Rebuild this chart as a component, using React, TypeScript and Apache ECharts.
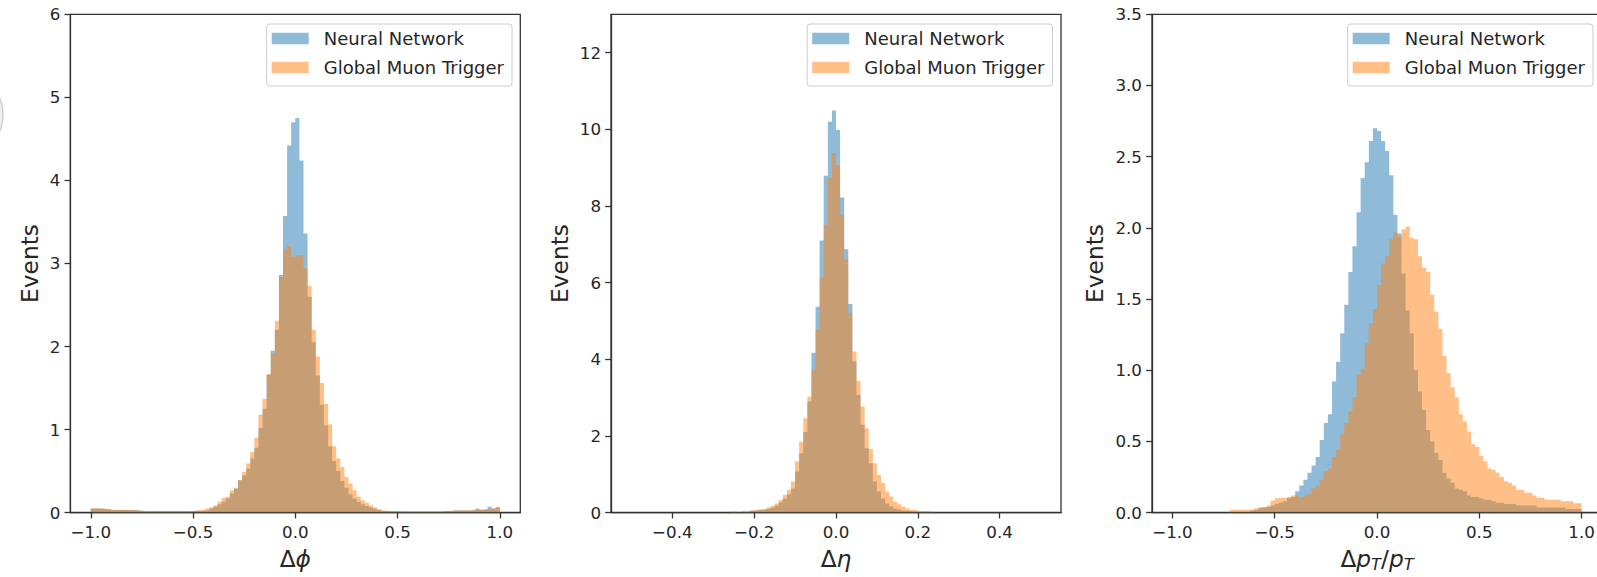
import React, { useEffect, useRef } from 'react';
import * as echarts from 'echarts';

// ---------------- data ----------------
const SERIES_NAMES = ['Neural Network', 'Global Muon Trigger'];

// Δφ histogram: 100 bins on [-1, 1]
const PHI_BIN_RANGE = [-1, 1];
const PHI_NN = [
  0.05, 0.05, 0.045, 0.04, 0.04, 0.03, 0.03, 0.03, 0.03, 0.03,
  0.03, 0.025, 0.02, 0.015, 0.015, 0.015, 0.015, 0.015, 0.015, 0.015,
  0.015, 0.015, 0.015, 0.015, 0.02, 0.02, 0.02, 0.025, 0.03, 0.05,
  0.07, 0.1, 0.13, 0.17, 0.23, 0.29, 0.39, 0.45, 0.53, 0.65,
  0.78, 1.02, 1.25, 1.66, 1.95, 2.2, 2.86, 3.57, 4.42, 4.7,
  4.75, 4.24, 3.36, 2.6, 2.05, 1.65, 1.3, 1.05, 0.8, 0.62,
  0.5, 0.38, 0.3, 0.22, 0.17, 0.13, 0.1, 0.08, 0.06, 0.045,
  0.03, 0.02, 0.015, 0.015, 0.015, 0.012, 0.012, 0.012, 0.012, 0.012,
  0.012, 0.012, 0.012, 0.012, 0.012, 0.012, 0.02, 0.02, 0.025, 0.025,
  0.025, 0.025, 0.025, 0.03, 0.05, 0.035, 0.04, 0.07, 0.05, 0.06,
];
const PHI_GMT = [
  0.05, 0.05, 0.05, 0.05, 0.04, 0.03, 0.03, 0.03, 0.03, 0.03,
  0.03, 0.025, 0.02, 0.015, 0.015, 0.015, 0.015, 0.015, 0.015, 0.015,
  0.015, 0.015, 0.015, 0.02, 0.02, 0.025, 0.03, 0.03, 0.05, 0.065,
  0.09, 0.13, 0.18, 0.19, 0.27, 0.29, 0.39, 0.49, 0.59, 0.73,
  0.9, 1.18, 1.37, 1.67, 1.92, 2.31, 2.84, 3.17, 3.21, 3.08,
  3.1, 3.1, 2.94, 2.73, 2.2, 1.88, 1.56, 1.31, 1.06, 0.8,
  0.65, 0.55, 0.43, 0.35, 0.27, 0.19, 0.15, 0.12, 0.09, 0.065,
  0.04, 0.025, 0.02, 0.02, 0.015, 0.012, 0.012, 0.012, 0.012, 0.012,
  0.012, 0.012, 0.012, 0.012, 0.012, 0.012, 0.02, 0.02, 0.025, 0.025,
  0.025, 0.025, 0.025, 0.03, 0.035, 0.035, 0.04, 0.04, 0.05, 0.07,
];

// Δη histogram: 100 bins on [-0.5, 0.5]
const ETA_BIN_RANGE = [-0.5, 0.5];
const ETA_NN = [
  0, 0, 0, 0, 0, 0, 0, 0, 0, 0,
  0, 0, 0, 0, 0, 0, 0, 0, 0, 0,
  0, 0, 0, 0, 0.01, 0.01, 0.02, 0.02, 0.03, 0.05,
  0.06, 0.07, 0.08, 0.1, 0.13, 0.18, 0.27, 0.36, 0.48, 0.63,
  1.07, 1.55, 2.1, 2.9, 4.17, 5.37, 7.1, 8.79, 10.2, 10.49,
  9.99, 8.22, 6.87, 5.44, 3.94, 3.07, 2.29, 1.68, 1.29, 0.81,
  0.55, 0.37, 0.24, 0.16, 0.1, 0.08, 0.05, 0.04, 0.03, 0.02,
  0.01, 0.01, 0.01, 0.01, 0, 0, 0, 0, 0, 0,
  0, 0, 0, 0, 0, 0, 0, 0, 0, 0,
  0, 0, 0, 0, 0, 0, 0, 0, 0, 0,
];
const ETA_GMT = [
  0, 0, 0, 0, 0, 0, 0, 0, 0, 0,
  0, 0, 0, 0, 0, 0, 0, 0, 0, 0,
  0, 0, 0, 0, 0.03, 0.03, 0.01, 0.03, 0.03, 0.06,
  0.06, 0.085, 0.085, 0.13, 0.18, 0.24, 0.33, 0.46, 0.59, 0.81,
  1.33, 1.85, 2.46, 3.02, 3.72, 4.77, 6.12, 7.51, 8.73, 9.38,
  9.07, 7.77, 6.6, 5.2, 4.2, 3.44, 2.77, 2.2, 1.66, 1.29,
  0.98, 0.77, 0.55, 0.42, 0.28, 0.22, 0.15, 0.11, 0.07, 0.07,
  0.04, 0.04, 0.03, 0.03, 0, 0, 0, 0, 0, 0,
  0, 0, 0, 0, 0, 0, 0, 0, 0, 0,
  0, 0, 0, 0, 0, 0, 0, 0, 0, 0,
];

// ΔpT/pT histogram: 100 bins on [-1, 1]
const PT_BIN_RANGE = [-1, 1];
const PT_NN = [
  0, 0, 0, 0, 0, 0, 0, 0, 0, 0,
  0, 0, 0, 0, 0, 0, 0, 0, 0, 0.015,
  0.02, 0.03, 0.035, 0.04, 0.05, 0.06, 0.07, 0.08, 0.1, 0.11,
  0.15, 0.19, 0.23, 0.28, 0.33, 0.39, 0.51, 0.63, 0.69, 0.92,
  1.06, 1.26, 1.46, 1.69, 1.87, 2.11, 2.35, 2.46, 2.61, 2.7,
  2.68, 2.61, 2.54, 2.37, 2.09, 1.96, 1.68, 1.42, 1.26, 1.0,
  0.85, 0.72, 0.58, 0.5, 0.42, 0.37, 0.28, 0.24, 0.21, 0.17,
  0.16, 0.15, 0.12, 0.11, 0.11, 0.1, 0.09, 0.09, 0.08, 0.07,
  0.07, 0.06, 0.06, 0.06, 0.05, 0.05, 0.05, 0.05, 0.05, 0.035,
  0.035, 0.035, 0.035, 0.035, 0.035, 0.035, 0.025, 0.025, 0.025, 0.025,
];
const PT_GMT = [
  0, 0, 0, 0, 0, 0, 0, 0, 0, 0,
  0, 0, 0, 0, 0.02, 0.02, 0.02, 0.02, 0.02, 0.02,
  0.03, 0.04, 0.04, 0.05, 0.085, 0.1, 0.105, 0.105, 0.11, 0.12,
  0.12, 0.11, 0.12, 0.13, 0.17, 0.19, 0.23, 0.29, 0.31, 0.39,
  0.44, 0.55, 0.63, 0.71, 0.81, 0.97, 1.01, 1.19, 1.33, 1.43,
  1.6, 1.75, 1.8, 1.92, 1.97, 1.94, 1.99, 2.01, 1.93, 1.92,
  1.8, 1.72, 1.69, 1.53, 1.41, 1.29, 1.1, 0.98, 0.88, 0.81,
  0.69, 0.64, 0.57, 0.48, 0.46, 0.4, 0.36, 0.31, 0.3, 0.28,
  0.25, 0.22, 0.21, 0.19, 0.16, 0.16, 0.14, 0.14, 0.12, 0.105,
  0.105, 0.09, 0.09, 0.09, 0.09, 0.08, 0.08, 0.08, 0.065, 0.065,
];

// tick values
const PHI_X_TICKS = [-1, -0.5, 0, 0.5, 1];
const ETA_X_TICKS = [-0.4, -0.2, 0, 0.2, 0.4];
const PT_X_TICKS = [-1, -0.5, 0, 0.5, 1];
const PHI_Y_TICKS = [0, 1, 2, 3, 4, 5, 6];
const ETA_Y_TICKS = [0, 2, 4, 6, 8, 10, 12];
const PT_Y_TICKS = [0, 0.5, 1, 1.5, 2, 2.5, 3, 3.5];

// ---------------- styles ----------------
const FONT = "'DejaVu Sans', 'Liberation Sans', sans-serif";
const TEXT_COLOR = '#262626';
const AXIS_COLOR = '#333333';
const NN_COLOR = 'rgba(31,119,180,0.5)';
const GMT_COLOR = 'rgba(255,127,14,0.5)';
const TICK_FS = 16.7;
const LEGEND_FS = 18;
const LABEL_FS = 23.3;

const fmtX = (v: number) => (v < 0 ? '\u2212' : '') + Math.abs(v).toFixed(1);
const fmtInt = (v: number) => String(Math.round(v));
const fmtOne = (v: number) => v.toFixed(1);

// build step-histogram points from bin values
function stepPoints(values: number[], range: number[]) {
  const w = (range[1] - range[0]) / values.length;
  const pts: number[][] = values.map((v, i) => [range[0] + i * w, v]);
  pts.push([range[1], values[values.length - 1]]);
  return pts;
}

const richName = {
  u: { fontSize: LABEL_FS, fontFamily: FONT, color: TEXT_COLOR, lineHeight: 28 },
  i: { fontSize: LABEL_FS, fontFamily: FONT, color: TEXT_COLOR, fontStyle: 'italic', lineHeight: 28 },
  s: { fontSize: 16.3, fontFamily: FONT, color: TEXT_COLOR, fontStyle: 'italic', lineHeight: 16, verticalAlign: 'bottom' },
};

const PANELS = [
  {
    left: 70.3, xMin: -1.1, xMax: 1.1, range: PHI_BIN_RANGE, nn: PHI_NN, gmt: PHI_GMT,
    xTicks: PHI_X_TICKS, yMax: 6, yTicks: PHI_Y_TICKS, yFmt: fmtInt,
    xName: '{u|Δ}{i|ϕ}', yNameGap: 29.5, legendRight: 1085,
  },
  {
    left: 611, xMin: -0.55, xMax: 0.55, range: ETA_BIN_RANGE, nn: ETA_NN, gmt: ETA_GMT,
    xTicks: ETA_X_TICKS, yMax: 13, yTicks: ETA_Y_TICKS, yFmt: fmtInt,
    xName: '{u|Δ}{i|η}', yNameGap: 40.5, legendRight: 544.5,
  },
  {
    left: 1152, xMin: -1.1, xMax: 1.1, range: PT_BIN_RANGE, nn: PT_NN, gmt: PT_GMT,
    xTicks: PT_X_TICKS, yMax: 3.5, yTicks: PT_Y_TICKS, yFmt: fmtOne,
    xName: '{u|Δ}{i|p}{s|T}{u|/}{i|p}{s|T}', yNameGap: 46, legendRight: 4,
  },
];

const GRID_TOP = 14.3;
const GRID_W = 450;
const GRID_H = 498.3;

function buildOption() {
  const grid: any[] = [];
  const xAxis: any[] = [];
  const yAxis: any[] = [];
  const series: any[] = [];
  const legend: any[] = [];

  PANELS.forEach((p, i) => {
    grid.push({
      left: p.left, top: GRID_TOP, width: GRID_W, height: GRID_H,
      show: true, borderColor: AXIS_COLOR, borderWidth: 1.3, backgroundColor: 'rgba(0,0,0,0)',
      containLabel: false, outerBoundsMode: 'none',
    });
    xAxis.push({
      type: 'value', gridIndex: i, min: p.xMin, max: p.xMax,
      axisLine: { show: true, onZero: false, lineStyle: { color: AXIS_COLOR, width: 1.3 } },
      axisTick: { show: true, length: 5.8, inside: false, lineStyle: { color: AXIS_COLOR, width: 1.3 }, customValues: p.xTicks },
      axisLabel: {
        customValues: p.xTicks, formatter: fmtX, fontSize: TICK_FS, fontFamily: FONT,
        color: TEXT_COLOR, margin: 11, showMinLabel: true, showMaxLabel: true,
      },
      splitLine: { show: false },
      name: p.xName, nameLocation: 'middle', nameGap: 32,
      nameTextStyle: { fontSize: LABEL_FS, fontFamily: FONT, color: TEXT_COLOR, rich: richName },
    });
    yAxis.push({
      type: 'value', gridIndex: i, min: 0, max: p.yMax,
      axisLine: { show: true, onZero: false, lineStyle: { color: AXIS_COLOR, width: 1.3 } },
      axisTick: { show: true, length: 5.8, inside: false, lineStyle: { color: AXIS_COLOR, width: 1.3 }, customValues: p.yTicks },
      axisLabel: {
        customValues: p.yTicks, formatter: p.yFmt, fontSize: TICK_FS, fontFamily: FONT,
        color: TEXT_COLOR, margin: 10, showMinLabel: true, showMaxLabel: true,
      },
      splitLine: { show: false },
      name: 'Events', nameLocation: 'middle', nameGap: p.yNameGap,
      nameTextStyle: { fontSize: LABEL_FS, fontFamily: FONT, color: TEXT_COLOR },
    });
    const mk = (name: string, color: string, values: number[], z: number) => ({
      type: 'line', name, xAxisIndex: i, yAxisIndex: i,
      data: stepPoints(values, p.range), step: 'end',
      symbol: 'none', showSymbol: false, silent: true, z,
      color,
      itemStyle: { color },
      lineStyle: { width: 0, color },
      areaStyle: { color, opacity: 1 },
      emphasis: { disabled: true },
    });
    series.push(mk(SERIES_NAMES[0], NN_COLOR, p.nn, 2));
    series.push(mk(SERIES_NAMES[1], GMT_COLOR, p.gmt, 3));
    legend.push({
      data: SERIES_NAMES, orient: 'vertical', right: p.legendRight, top: 24,
      icon: 'rect', itemWidth: 37, itemHeight: 11.5, itemGap: 10,
      padding: [5, 8, 9, 5],
      backgroundColor: 'rgba(255,255,255,0.8)', borderColor: '#cccccc', borderWidth: 1, borderRadius: 3,
      selectedMode: false,
      textStyle: { fontSize: LEGEND_FS, fontFamily: FONT, color: TEXT_COLOR, lineHeight: 19, padding: [0, 0, 0, 10] },
      z: 10,
    });
  });

  return {
    animation: false,
    backgroundColor: '#ffffff',
    textStyle: { fontFamily: FONT },
    grid, xAxis, yAxis, series, legend,
    graphic: [
      {
        type: 'circle', silent: true, z: 0,
        shape: { cx: -40, cy: 115, r: 43 },
        style: { fill: '#f2f2f2', stroke: '#d0d0d0', lineWidth: 1.5 },
      },
    ],
  };
}

export default function App() {
  const ref = useRef<HTMLDivElement>(null);
  useEffect(() => {
    if (!ref.current) return;
    const chart = echarts.init(ref.current, undefined, { renderer: 'svg' });
    chart.setOption(buildOption() as any);
    return () => chart.dispose();
  }, []);
  return (
    <div
      ref={ref}
      style={{ position: 'absolute', left: 0, top: 0, width: 1597, height: 577, background: '#fff' }}
    />
  );
}
